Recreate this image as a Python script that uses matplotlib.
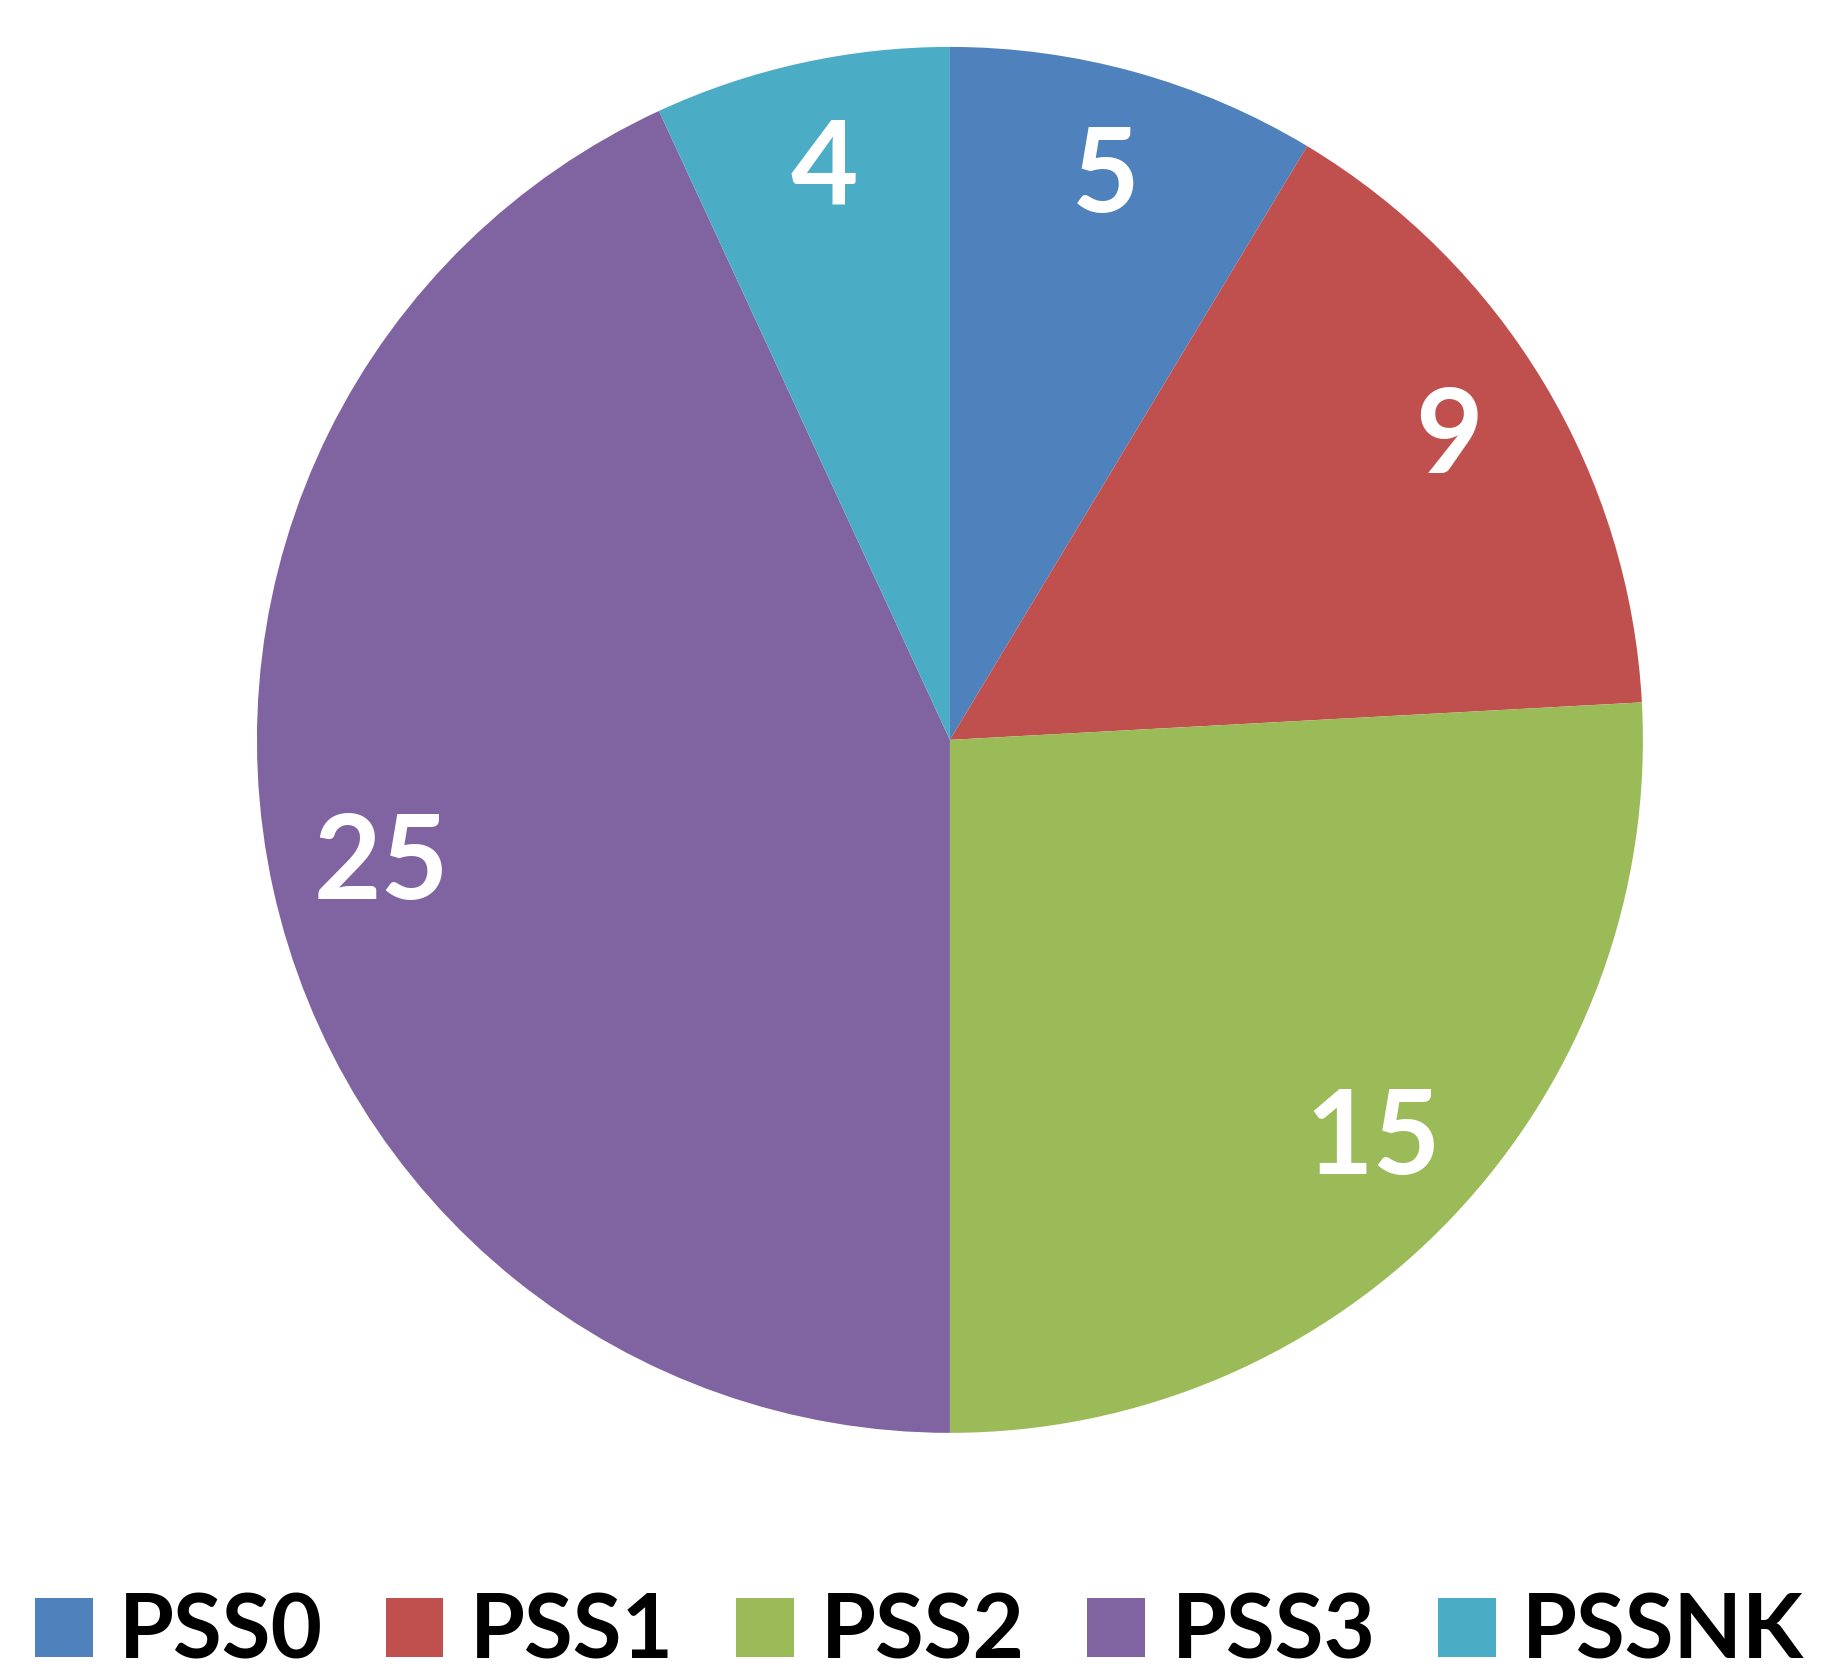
import matplotlib.pyplot as plt
from matplotlib.patches import Patch

categories = ['PSS0', 'PSS1', 'PSS2', 'PSS3', 'PSSNK']
counts = [5, 9, 15, 25, 4]
colors = ['#4F81BD', '#C0504D', '#9BBB59', '#8064A2', '#4BACC6']

plt.rcParams['font.family'] = ['Lato', 'DejaVu Sans']

fig = plt.figure(figsize=(18.21, 16.73), dpi=100)
ax = fig.add_axes([0.1411, 0.1435, 0.7611, 0.8285])

total = sum(counts)
wedges, texts, autotexts = ax.pie(
    counts, colors=colors, startangle=90, counterclock=False,
    autopct=lambda p: '%d' % round(p * total / 100.0), pctdistance=0.84,
    wedgeprops=dict(linewidth=0))
for t in autotexts:
    t.set_color('white')
    t.set_fontsize(84)
    t.set_fontweight('bold')
ax.set_xlim(-1, 1)
ax.set_ylim(-1, 1)
ax.set_aspect('equal')

handles = [Patch(facecolor=c, edgecolor='none') for c in colors]
fig.legend(handles, categories, loc='lower center', bbox_to_anchor=(0.505, -0.003),
           ncol=5, frameon=False, prop=dict(size=64, weight='bold'),
           borderaxespad=0, borderpad=0.05,
           handlelength=0.65, handleheight=0.65, handletextpad=0.3,
           columnspacing=0.7)

fig.savefig('out.png', dpi=100, facecolor='white')
